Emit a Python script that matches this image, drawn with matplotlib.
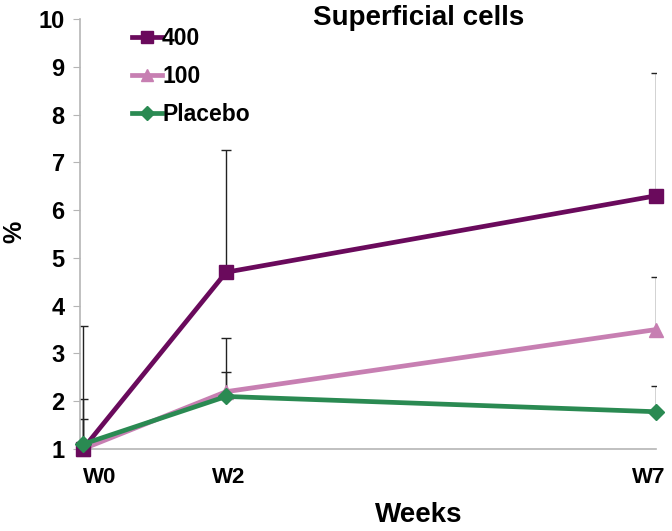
import numpy as np
import matplotlib.pyplot as plt
from matplotlib.transforms import ScaledTranslation

plt.rcParams['font.family'] = ['Liberation Sans', 'DejaVu Sans']
plt.rcParams['font.weight'] = 'bold'

# weeks, W7 plotted at x=8 like the original
weeks = [0, 2, 8]
week_labels = ['W0', 'W2', 'W7']

labels = ['400', '100', 'Placebo']
v400 = [1.0, 4.7, 6.3]
e400 = [2.58, 2.55, 2.57]
v100 = [1.0, 2.2, 3.5]
e100 = [1.05, 1.13, 1.1]
vplac = [1.1, 2.1, 1.78]
eplac = [0.52, 0.52, 0.54]

colors = ['#6a0a5c', '#c77fb2', '#2a8a52']
markers = ['s', '^', 'D']
msizes = [10, 10, 8]

fig = plt.figure(figsize=(6.72, 5.31), dpi=100)
ax = fig.add_axes([80/672, 1-449/531, (656-80)/672, (449-19)/531])

series = [(v400, e400), (v100, e100), (vplac, eplac)]
order = [1, 0, 2]
lines = {}
for i in order:
    vals, errs = series[i]
    ax.errorbar(weeks, vals, yerr=[np.zeros(3), errs], fmt='none',
                ecolor='#222222', elinewidth=1.0, capsize=3.5, capthick=1.0,
                zorder=2)
for i in order:
    vals, errs = series[i]
    l, = ax.plot(weeks, vals, color=colors[i], lw=3.4, marker=markers[i],
                 ms=msizes[i], label=labels[i], zorder=3, clip_on=False)
    lines[i] = l

ax.set_xlim(-0.04, 8.0)
ax.set_ylim(1, 10)
ax.set_yticks(range(1, 11))
ax.set_xticks(weeks)
ax.set_xticklabels(week_labels)
ax.tick_params(axis='y', length=5, color='#b5b5b5', labelsize=17, pad=6)
ax.tick_params(axis='x', length=0, labelsize=16, pad=13)
# nudge the week labels the way the original has them
shifts = [17, 3, -7]
for lab, dx in zip(ax.get_xticklabels(), shifts):
    lab.set_transform(lab.get_transform() + ScaledTranslation(dx/100, 0, fig.dpi_scale_trans))
for s in ['top', 'right']:
    ax.spines[s].set_visible(False)
for s in ['left', 'bottom']:
    ax.spines[s].set_color('#b5b5b5')
    ax.spines[s].set_linewidth(1.2)

ax.set_xlabel('Weeks', fontsize=20, fontweight='bold', va='center')
ax.xaxis.set_label_coords((419-80)/576, (449-515)/430)
ax.set_ylabel('%', fontsize=18, fontweight='bold', va='center')
ax.yaxis.set_label_coords((14-80)/576, (449-232)/430)

fig.text(419/672, 1-18/531, 'Superficial cells', ha='center', va='center',
         fontsize=20, fontweight='bold')

leg = ax.legend([lines[0], lines[1], lines[2]], labels, loc='upper left',
                bbox_to_anchor=(0.055, 1.03), frameon=False, fontsize=16.5,
                handlelength=1.3, handletextpad=0.0, labelspacing=0.66,
                markerscale=0.85)

fig.savefig('out.png', dpi=100)
